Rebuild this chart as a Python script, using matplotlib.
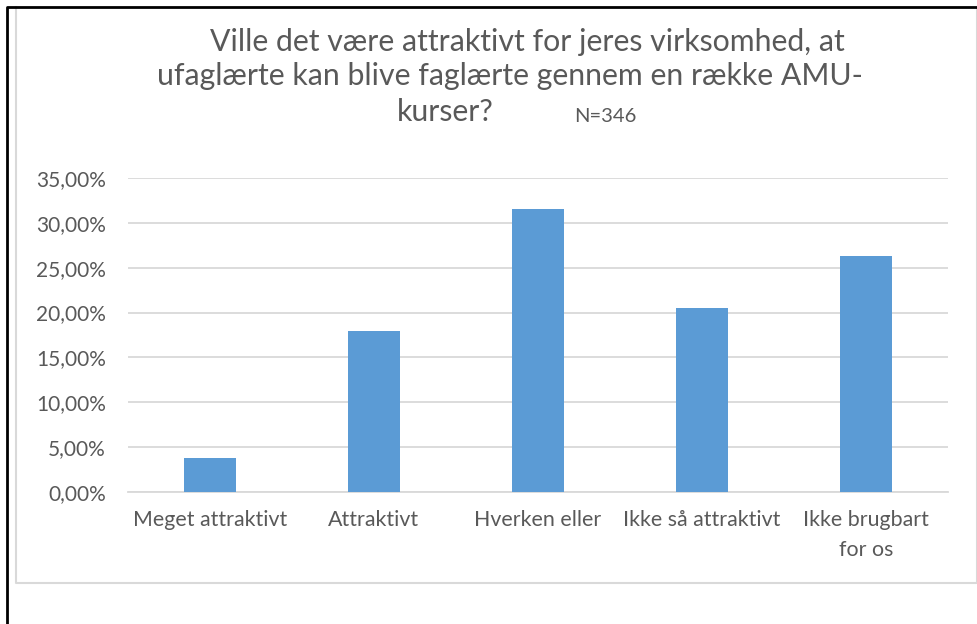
import matplotlib.pyplot as plt
from matplotlib.lines import Line2D
from matplotlib.ticker import FuncFormatter, MultipleLocator

# svar fra spørgeskemaet (N=346)
kategorier = ["Meget attraktivt", "Attraktivt", "Hverken eller",
              "Ikke så attraktivt", "Ikke brugbart\nfor os"]
andele = [0.0376, 0.1792, 0.3150, 0.2052, 0.2630]

titel_linjer = ["Ville det være attraktivt for jeres virksomhed, at",
                "ufaglærte kan blive faglærte gennem en række AMU-",
                "kurser?"]
n_tekst = "N=346"

GRAA = "#595959"
BLAA = "#5B9BD5"
GRID = "#D9D9D9"

plt.rcParams["font.family"] = ["Lato", "DejaVu Sans"]

fig = plt.figure(figsize=(9.78, 6.24), dpi=100)
ax = fig.add_axes([128 / 978, 132 / 624, 820 / 978, 314 / 624])

x = range(len(kategorier))
ax.bar(x, andele, width=0.315, color=BLAA, zorder=3)

ax.set_xlim(-0.5, len(kategorier) - 0.5)
ax.set_ylim(0, 0.35)
ax.yaxis.set_major_locator(MultipleLocator(0.05))
ax.yaxis.set_major_formatter(FuncFormatter(lambda v, p: f"{v * 100:.2f}%".replace(".", ",")))
ax.set_xticks(list(x))
ax.set_xticklabels(kategorier, linespacing=1.6)

ax.grid(axis="y", color=GRID, linewidth=1.3, zorder=0)
for s in ["top", "right", "left"]:
    ax.spines[s].set_visible(False)
ax.spines["bottom"].set_color(GRID)
ax.spines["bottom"].set_linewidth(1.3)
ax.tick_params(axis="both", length=0, labelcolor=GRAA)
ax.tick_params(axis="y", pad=16, labelsize=15)
ax.tick_params(axis="x", pad=13, labelsize=15.4)

# titel, placeret linje for linje som i originalen
fs_titel = 21.8
fig.text(527 / 978, 1 - 42 / 624, titel_linjer[0], ha="center", va="center", fontsize=fs_titel, color=GRAA)
fig.text(510 / 978, 1 - 76 / 624, titel_linjer[1], ha="center", va="center", fontsize=fs_titel, color=GRAA)
fig.text(445 / 978, 1 - 112 / 624, titel_linjer[2], ha="center", va="center", fontsize=fs_titel, color=GRAA)
fig.text(605 / 978, 1 - 116 / 624, n_tekst, ha="center", va="center", fontsize=14.5, color=GRAA)

# rammer
fig.add_artist(Line2D([16 / 978, 16 / 978, 977 / 978, 977 / 978],
                      [1 - 7 / 624, 1 - 583 / 624, 1 - 583 / 624, 1 - 7 / 624],
                      color=GRID, linewidth=1.5))
fig.add_artist(Line2D([7 / 978, 7 / 978, 1], [0, 1 - 7 / 624, 1 - 7 / 624],
                      color="black", linewidth=2))

fig.savefig("out.png", dpi=100)
